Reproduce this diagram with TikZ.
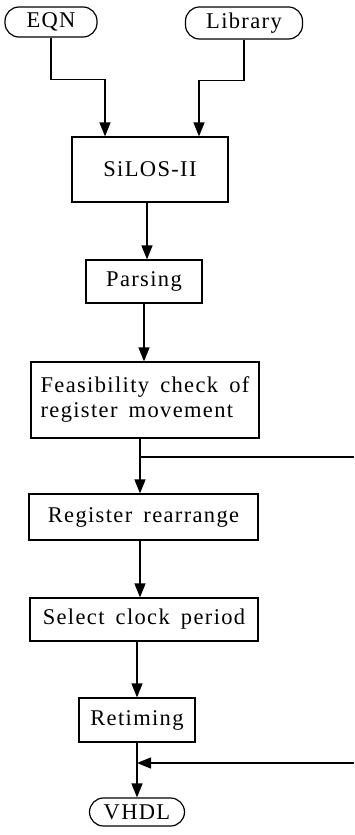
\documentclass[tikz,border=0pt]{standalone}
\usepackage{fontspec}
\setmainfont[LetterSpace=6,WordSpace=1.6]{Liberation Serif}
\usetikzlibrary{arrows.meta}
\begin{document}
\begin{tikzpicture}[x=1pt,y=-1pt,
  box/.style={draw,line width=1.2pt,inner sep=0pt,font=\fontsize{22.5}{25}\selectfont},
  term/.style={box,rounded corners=14pt},
  arr/.style={line width=1.4pt,-{Triangle[length=14pt,width=11pt]}}]
\useasboundingbox (0,0) rectangle (354,835);
\node[term,minimum width=92pt,minimum height=30pt] (eqn) at (51,22) {EQN};
\node[term,minimum width=117pt,minimum height=32pt] (lib) at (244,23) {Library};
\node[box,minimum width=156pt,minimum height=65pt] (silos) at (150,169.5) {SiLOS-II};
\node[box,minimum width=116pt,minimum height=43pt] (parse) at (144,281.5) {Parsing};
\node[box,minimum width=228pt,minimum height=76pt,align=left] (feas) at (145,400)
  {Feasibility check of\\register movement};
\node[box,minimum width=229pt,minimum height=46pt] (rear) at (143.5,517) {Register rearrange};
\node[box,minimum width=228pt,minimum height=43pt] (sel) at (144,619.5) {Select clock period};
\node[box,minimum width=116pt,minimum height=44pt] (ret) at (137,720) {Retiming};
\node[term,minimum width=95pt,minimum height=28pt] (vhdl) at (137,812) {VHDL};
\coordinate (fork) at (140,457);
\coordinate (outA) at (354,457);
\coordinate (join) at (137,763);
\coordinate (inB) at (354,763);
% inputs
\draw[arr] (eqn.south) -- ++(0,42) -| ([xshift=-45pt]silos.north);
\draw[arr] (lib.south) -- ++(0,41) -| ([xshift=49pt]silos.north);
% main flow
\draw[arr] ([xshift=-3pt]silos.south) -- ([xshift=-3pt]silos.south |- parse.north);
\draw[arr] (parse.south) -- (parse.south |- feas.north);
\draw[arr] ([xshift=-5pt]feas.south) -- ([xshift=-5pt]feas.south |- rear.north);
\draw[arr] ([xshift=-3.5pt]rear.south) -- ([xshift=-3.5pt]rear.south |- sel.north);
\draw[arr] ([xshift=-7pt]sel.south) -- ([xshift=-7pt]sel.south |- ret.north);
\draw[arr] (ret.south) -- (vhdl.north);
% side path
\draw[line width=1.4pt] (fork) -- (outA);
\draw[arr] (inB) -- (join);
\end{tikzpicture}
\end{document}
